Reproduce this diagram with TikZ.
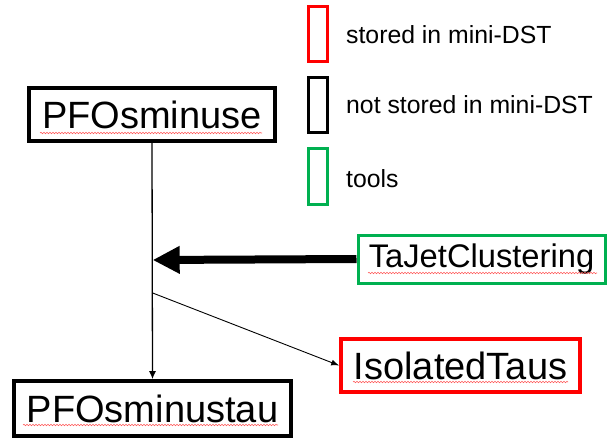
\documentclass[tikz,border=0pt]{standalone}
\usepackage{fontspec}
\setmainfont{Liberation Sans}
\usetikzlibrary{arrows.meta,decorations.pathmorphing}
\definecolor{ppgreen}{RGB}{0,176,80}
\begin{document}
\begin{tikzpicture}[
    x=1pt,y=-1pt,
    box/.style={draw, line width=3.6pt, inner sep=0pt, font=\fontsize{38}{40}\selectfont},
    key/.style={draw, line width=3pt, minimum width=19pt, minimum height=55pt, inner sep=0pt},
    keytext/.style={anchor=west, inner sep=0pt, font=\fontsize{24.8}{26}\selectfont},
    squiggle/.style={red!65, line width=0.6pt, decorate, decoration={snake, amplitude=0.7pt, segment length=3pt}}
    ]
    \useasboundingbox (0, 0) rectangle (608, 441);
    \node[key, red] (kred) at (318, 34) {};
    \node[key, black] (kblack) at (318, 105) {};
    \node[key, ppgreen] (kgreen) at (318, 176.5) {};
    \node[keytext] (tred) at (346, 35) {stored in mini-DST};
    \node[keytext] (tblack) at (346, 105) {not stored in mini-DST};
    \node[keytext] (tgreen) at (346, 179) {tools};
    \node[box, minimum width=246pt, minimum height=53pt] (minuse) at (152, 114.5) {PFOsminuse};
    \node[box, minimum width=277pt, minimum height=55pt] (minustau) at (152.5, 408.5) {PFOsminustau};
    \node[box, red, text=black, minimum width=239pt, minimum height=53pt] (isotaus) at (460.5, 365.5) {IsolatedTaus};
    \node[box, ppgreen, text=black, line width=3pt, minimum width=247pt, minimum height=48pt,
      font=\fontsize{32.7}{34}\selectfont] (tajet) at (481.5, 259) {TaJetClustering};
    \coordinate (merge) at (152.7, 260);
    \coordinate (split) at (152.7, 293);
    \draw[line width=1.3pt, -{Latex[length=8pt,width=7pt]}] (minuse.south) -- (minustau.north);
    \draw[line width=8pt, -{Triangle[length=27pt,width=26pt]}] (tajet.west) -- (merge);
    \draw[line width=0.9pt, -{Latex[length=8pt,width=6pt]}] (split) -- (isotaus.west);
    \draw[squiggle] (40, 133) -- (262, 133);
    \draw[squiggle] (23, 425) -- (278, 425);
    \draw[squiggle] (353, 382) -- (568, 382);
    \draw[squiggle] (368, 273) -- (597, 273);
  \end{tikzpicture}
\end{document}
